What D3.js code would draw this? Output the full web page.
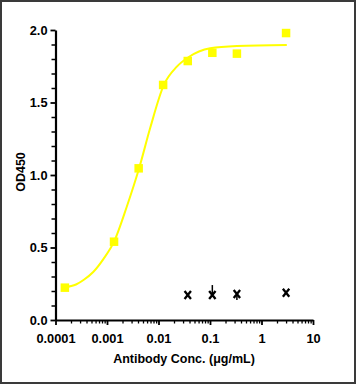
<!DOCTYPE html>
<html><head><meta charset="utf-8">
<script src="https://cdn.jsdelivr.net/npm/d3@7"></script>
<style>body{margin:0;background:#fff}svg{display:block}text{font-family:"Liberation Sans",Arial,sans-serif;font-weight:bold}</style>
</head><body>
<script>
// Antibody series (yellow squares)
const abConc = [0.000152, 0.00137, 0.00412, 0.0123, 0.037, 0.111, 0.333, 3];
const abOD   = [0.223, 0.540, 1.046, 1.621, 1.786, 1.843, 1.837, 1.979];
// fitted curve
const fitConc = [0.000152, 0.00025, 0.00035, 0.00054, 0.00085, 0.00137, 0.00242, 0.0042, 0.00687, 0.0127, 0.0227, 0.038, 0.1007, 0.333, 3.1];
const fitOD   = [0.226, 0.245, 0.276, 0.331, 0.42, 0.540, 0.781, 1.046, 1.322, 1.621, 1.747, 1.812, 1.874, 1.890, 1.897];
// control series (black crosses)
const ctrlConc = [0.037, 0.111, 0.333, 3];
const ctrlOD   = [0.172, 0.172, 0.179, 0.188];
const ctrlLo   = [0.165, 0.160, 0.138, 0.180];
const ctrlHi   = [0.180, 0.241, 0.190, 0.196];
const xTicks = [0.0001, 0.001, 0.01, 0.1, 1, 10];
const xTickLabels = ["0.0001", "0.001", "0.01", "0.1", "1", "10"];
const yTicks = [0, 0.5, 1.0, 1.5, 2.0];
const yTickLabels = ["0.0", "0.5", "1.0", "1.5", "2.0"];

const W = 356, H = 384;
const svg = d3.select("body").append("svg").attr("width", W).attr("height", H);
svg.append("rect").attr("x",1).attr("y",1).attr("width",W-2).attr("height",H-2)
  .attr("fill","#fff").attr("stroke","#3a3a3a").attr("stroke-width",2);

const x = d3.scaleLog().domain([0.0001, 10]).range([55.5, 313]);
const y = d3.scaleLinear().domain([0, 2]).range([320, 30]);

// minor ticks
const xMinor = [];
for (let e = -4; e < 1; e++) for (let m = 2; m <= 9; m++) xMinor.push(m * Math.pow(10, e));
const yMinor = d3.range(0, 2.01, 0.1).map(v => +v.toFixed(1)).filter(v => Math.abs(v*2 - Math.round(v*2)) > 1e-6);

const g = svg.append("g");
// x axis
const xa = g.append("g").attr("transform", "translate(0,320)");
xa.call(d3.axisBottom(x).tickValues(xMinor).tickSize(3.5).tickFormat(""))
  .call(s => s.select(".domain").remove())
  .call(s => s.selectAll("line").attr("stroke","#000").attr("stroke-width",1.3));
xa.append("g").call(d3.axisBottom(x).tickValues(xTicks).tickSize(5).tickPadding(9).tickFormat((d,i)=>xTickLabels[i]).tickSizeOuter(0))
  .call(s => s.select(".domain").attr("stroke","#000").attr("stroke-width",2.2))
  .call(s => s.selectAll("line").attr("stroke","#000").attr("stroke-width",1.8))
  .call(s => s.selectAll("text").attr("fill","#000").attr("font-size",12.8).attr("font-family","Liberation Sans, Arial").attr("font-weight","bold"));

// y axis
const ya = g.append("g").attr("transform", "translate(55.5,0)");
ya.call(d3.axisLeft(y).tickValues(yMinor).tickSize(4).tickFormat(""))
  .call(s => s.select(".domain").remove())
  .call(s => s.selectAll("line").attr("stroke","#000").attr("stroke-width",1.5));
ya.append("g").call(d3.axisLeft(y).tickValues(yTicks).tickSize(5).tickPadding(3).tickFormat((d,i)=>yTickLabels[i]).tickSizeOuter(0))
  .call(s => s.select(".domain").attr("stroke","#000").attr("stroke-width",2.2))
  .call(s => s.selectAll("line").attr("stroke","#000").attr("stroke-width",1.8))
  .call(s => s.selectAll("text").attr("fill","#000").attr("font-size",12.8).attr("font-family","Liberation Sans, Arial").attr("font-weight","bold"));

// axis titles
svg.append("text").attr("x",184).attr("y",363).attr("text-anchor","middle")
  .attr("font-size",12.5).text("Antibody Conc. (μg/mL)");
svg.append("text").attr("transform","translate(25,172) rotate(-90)").attr("text-anchor","middle")
  .attr("font-size",12.5).text("OD450");

// fitted curve
const line = d3.line().x((d,i)=>x(fitConc[i])).y((d,i)=>y(fitOD[i])).curve(d3.curveMonotoneX);
svg.append("path").datum(fitOD).attr("d", line).attr("fill","none").attr("stroke","#ffff00").attr("stroke-width",2);

// squares
const sq = 8.5;
svg.selectAll(".sq").data(abOD).join("rect")
  .attr("x",(d,i)=>x(abConc[i])-sq/2).attr("y",d=>y(d)-sq/2)
  .attr("width",sq).attr("height",sq).attr("fill","#ffff00");

// control error bars and crosses
svg.selectAll(".eb").data(ctrlOD).join("line")
  .attr("x1",(d,i)=>x(ctrlConc[i])).attr("x2",(d,i)=>x(ctrlConc[i]))
  .attr("y1",(d,i)=>y(ctrlHi[i])).attr("y2",(d,i)=>y(ctrlLo[i]))
  .attr("stroke","#000").attr("stroke-width",1.5);
const cw = 3.2, ch = 4;
svg.selectAll(".cx").data(ctrlOD).join("path")
  .attr("d",(d,i)=>{const cx=x(ctrlConc[i]), cy=y(d);
    return `M${cx-cw},${cy-ch}L${cx+cw},${cy+ch}M${cx-cw},${cy+ch}L${cx+cw},${cy-ch}`;})
  .attr("stroke","#000").attr("stroke-width",2.3).attr("fill","none");
</script>
</body></html>
